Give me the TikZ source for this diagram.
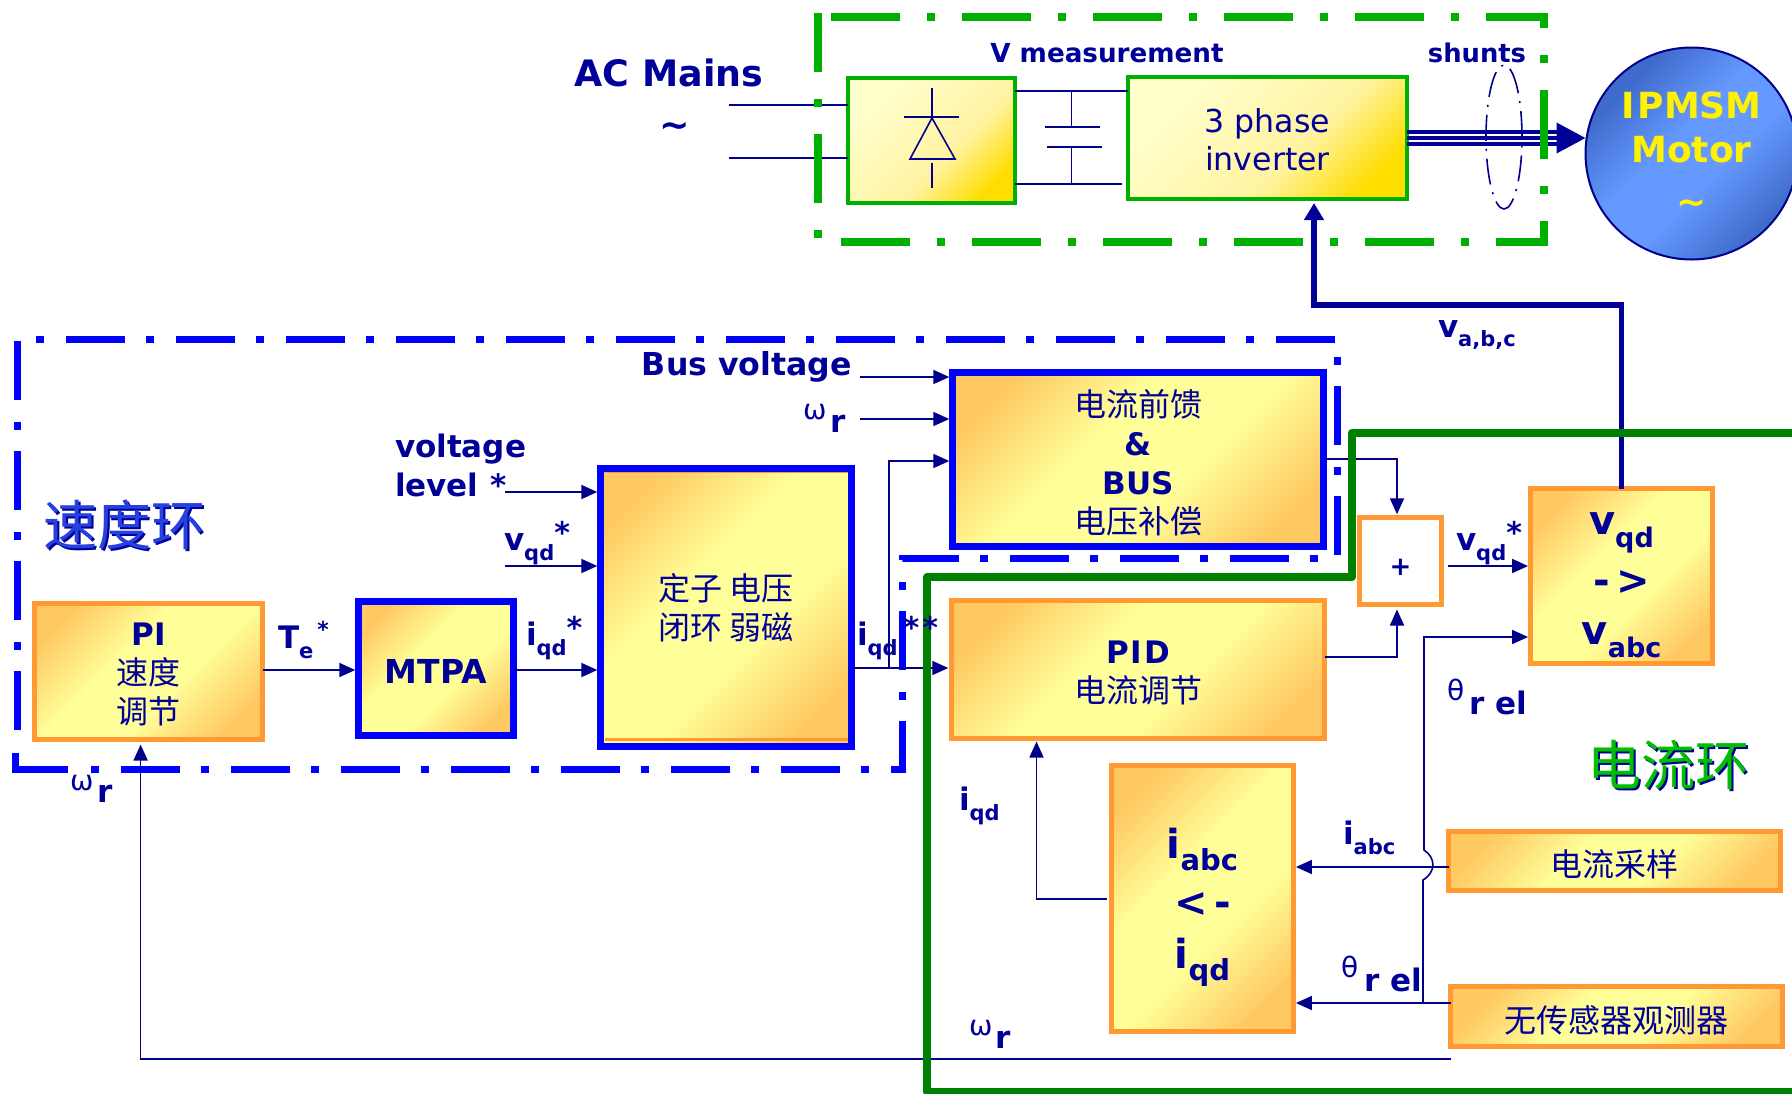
\documentclass[tikz,border=0pt]{standalone}
\usepackage{fontspec}
\setmainfont{DejaVu Sans}
\newfontfamily\cjk{Noto Sans CJK SC}
\usetikzlibrary{arrows.meta,calc,shapes.geometric}
\definecolor{navy}{HTML}{000099}
\definecolor{lineblue}{HTML}{00008B}
\definecolor{frameblue}{HTML}{0000FF}
\definecolor{framegreen}{HTML}{00B000}
\definecolor{loopgreen}{HTML}{008000}
\definecolor{boxorange}{HTML}{FF9933}
\definecolor{gradO}{HTML}{FFC861}
\definecolor{gradY}{HTML}{FFFF99}
\definecolor{goldA}{HTML}{FFFFCC}
\definecolor{goldB}{HTML}{FFF3A0}
\definecolor{goldC}{HTML}{FFDD00}
\definecolor{motA}{HTML}{3F6CCC}
\definecolor{motB}{HTML}{6699FF}
\pgfdeclarehorizontalshading{warmshade}{100bp}{color(0bp)=(gradO); color(23bp)=(gradO); color(42bp)=(gradY); color(58bp)=(gradY); color(77bp)=(gradO); color(100bp)=(gradO)}
\pgfdeclarehorizontalshading{goldshade}{100bp}{color(0bp)=(goldA); color(27bp)=(goldA); color(58bp)=(goldB); color(76bp)=(goldC); color(100bp)=(goldC)}
\pgfdeclarehorizontalshading{motorshade}{100bp}{color(0bp)=(motA); color(28bp)=(motA); color(45bp)=(motB); color(57bp)=(motB); color(74bp)=(motA); color(100bp)=(motA)}
\newcommand\sbs[2][10.5]{\raisebox{-.32em}{\fontsize{#1}{#1}\selectfont #2}}
\newcommand\str[1][15]{\raisebox{.2em}{\fontsize{#1}{#1}\selectfont *}}
\newcommand\zh[1]{{\cjk\mdseries\fontsize{16}{19}\selectfont #1}}
\newcommand\grk[1]{{\mdseries\fontsize{14}{14}\selectfont #1}}
\newcommand\dn[1]{\rule{0pt}{#1}}
\tikzset{
  fontL/.style={font=\fontsize{15.5}{19.5}\selectfont\bfseries},
  lbl/.style={text=navy,inner sep=0pt,outer sep=0pt,fontL,align=center},
  base/.style={rectangle,inner sep=0pt,outer sep=0pt,text=navy,fontL,align=center},
  warm/.style={base,shading=warmshade,shading angle=-45},
  orangebox/.style={warm,draw=boxorange,line width=2.5pt},
  bluebox/.style={warm,draw=frameblue,line width=3.5pt},
  gold/.style={base,shading=goldshade,shading angle=-45,draw=framegreen,line width=2pt},
  conn/.style={draw=lineblue,line width=.8pt},
  tip/.style={-{Triangle[length=8pt,width=7pt]}},
  bluedash/.style={draw=frameblue,line width=3.5pt,line cap=butt,miter limit=10},
  greendash/.style={draw=framegreen,line width=4pt,line cap=butt,dash pattern=on 34.5pt off 13.5pt on 4pt off 13.5pt},
}
\begin{document}
\begin{tikzpicture}[x=0.5pt,y=-0.5pt]
\clip (0,0) rectangle (1792,1093);
\fill[white] (0,0) rectangle (1792,1093);

% named levels
\coordinate (yTe) at (0,670);
\coordinate (yVL) at (0,492);
\coordinate (yVq) at (0,566);
\coordinate (yBus) at (0,377);
\coordinate (yOm) at (0,419);
\coordinate (yFi) at (0,461);
\coordinate (yIq) at (0,668);
\coordinate (yFo) at (0,459);
\coordinate (yPo) at (0,657);
\coordinate (yTh) at (0,637);
\coordinate (yIa) at (0,867);
\coordinate (yOb) at (0,1003);
\coordinate (yW) at (0,1059);
\coordinate (yQ) at (0,899);
\coordinate (yF) at (0,305);
\coordinate (xJ) at (1397,0);
\coordinate (xW) at (140.6,0);
\coordinate (xQ) at (1036.5,0);
\coordinate (xF) at (1314,0);
\coordinate (xC) at (1071.5,0);
\coordinate (acA) at (729,105);
\coordinate (acB) at (729,158);
\coordinate (vlStart) at (505,492);
\coordinate (vqStart) at (505,566);
\coordinate (busStart) at (860,377);
\coordinate (omStart) at (860,419);
\coordinate (jq) at (889,668);
\coordinate (jt) at (1423,1003);
\coordinate (bumpA) at (1423,880);
\coordinate (bumpB) at (1424,850);
\coordinate (thTop) at (1424,637);

% frames
\draw[bluedash,dash pattern=on 29.5pt off 11pt on 4pt off 10.5pt] (1335,339) -- (17,339) -- (17,730);
\draw[bluedash,dash pattern=on 4pt off 11pt on 29.5pt off 10.5pt] (91,769) -- (902,769) -- (902,558) -- (1337,558) -- (1337,340);
\draw[bluedash] (15,753) -- (15,769) -- (68,769);

% boxes
\node[orangebox,minimum width=114pt,minimum height=68pt] (pi) at (148.5,671.5) {\dn{14.7pt}PI\\\zh{速度}\\\zh{调节}};
\node[bluebox,minimum width=77.5pt,minimum height=67pt,font=\fontsize{16.5}{19}\selectfont\bfseries] (mtpa) at (436,668.5) {\dn{15.4pt}MTPA};
\node[bluebox,minimum width=125.5pt,minimum height=139pt] (dz) at (726,607.5) {\zh{定子 电压}\\\zh{闭环 弱磁}};
\draw[boxorange,line width=1.5pt] ($(dz.south west)+(4,-7)$) -- ($(dz.south east)+(-4,-7)$);
\draw[boxorange,line width=.5pt] ($(dz.north west)+(4,4)$) -- ($(dz.north east)+(-4,4)$);
\node[bluebox,minimum width=185.5pt,minimum height=87pt] (ff) at (1138,459.5) {\zh{\dn{17pt}电流前馈}\\\&\\BUS\\\zh{电压补偿}};
\node[base,fill=white,draw=boxorange,line width=2.5pt,minimum width=41pt,minimum height=43.5pt,font=\fontsize{13}{15}\selectfont\bfseries] (plus) at (1400.5,561) {\dn{14pt}+};
\node[orangebox,minimum width=186.5pt,minimum height=69pt] (pid) at (1138,669.5) {\dn{14.7pt}P\kern1pt I\kern1pt D\\\zh{电流调节}};
\node[orangebox,minimum width=91pt,minimum height=87.5pt,font=\fontsize{20}{26}\selectfont\bfseries] (vq) at (1621.5,576) {\dn{20pt}v\sbs[13.5]{qd}\\[4pt]-\,>\\[-1pt]v\sbs[13.5]{abc}};
\node[orangebox,minimum width=91pt,minimum height=133pt,font=\fontsize{20}{26}\selectfont\bfseries] (ia) at (1202.5,898.5) {\dn{24pt}i\sbs[14.5]{abc}\\[3pt]<\,-\\[0pt]i\sbs[14.5]{qd}};
\node[orangebox,minimum width=166pt,minimum height=29.5pt] (samp) at (1614.5,861) {\zh{\dn{17pt}电流采样}};
\node[orangebox,minimum width=166pt,minimum height=30pt] (obs) at (1616.5,1016.5) {\zh{\dn{17pt}无传感器观测器}};
\node[gold,minimum width=83.5pt,minimum height=62.5pt] (rect) at (931.5,140.5) {};
\node[gold,minimum width=139.5pt,minimum height=61pt,font=\fontsize{15.8}{19}\selectfont\mdseries] (inv) at (1267.5,138) {\dn{13.5pt}3 phase\\inverter};
\node[circle,inner sep=0pt,outer sep=0pt,minimum size=106pt,draw=lineblue,line width=1pt,shading=motorshade,shading angle=-45,text=yellow,align=center,font=\fontsize{18}{24}\selectfont\bfseries] (motor) at (1691.5,153.5) {I\kern1.5pt PMSM\\[-2.3pt]Motor\\[2.3pt]\textasciitilde};

% rectifier symbol
\draw[conn] (932,88) -- (932,117);
\draw[conn,line width=1pt] (904,117) -- (959,117);
\draw[conn] (932,118) -- (955,159) -- (910,159) -- cycle;
\draw[conn] (932,163) -- (932,188);

% mains and DC bus
\draw[conn,line width=1pt] (acA) -- (acA -| rect.west);
\draw[conn,line width=1pt] (acB) -- (acB -| rect.west);
\draw[conn,line width=1pt] (rect.east |- 0,91) -- (inv.west |- 0,91);
\draw[conn,line width=1pt] (rect.east |- 0,184) -- (1122,184);
\draw[conn] (xC |- 0,91) -- (xC |- 0,127);
\draw[conn,line width=1pt] (1045,127) -- (1100,127);
\draw[conn,line width=1pt] (1047,147) -- (1102,147);
\draw[conn] (xC |- 0,147) -- (xC |- 0,184);

% three phase to motor
\draw[draw=navy,line width=2pt] (inv.east |- 0,132) -- (1557,132);
\draw[draw=navy,line width=2pt,-{Triangle[length=14.5pt,width=15pt]}] (inv.east |- 0,138) -- (motor.west |- 0,138);
\draw[draw=navy,line width=2pt] (inv.east |- 0,144) -- (1557,144);
\draw[lineblue,line width=.8pt,dash pattern=on 13pt off 4pt on 1pt off 4pt] (1504,137) ellipse [x radius=9pt,y radius=36pt];
\draw[greendash] (831,17) -- (1544,17) -- (1544,242) -- (818,242) -- (818,13);

% connectors
\draw[conn,tip,shorten >=1.6pt] (pi.east |- yTe) -- (mtpa.west |- yTe);
\draw[conn,tip,shorten >=1.6pt] (mtpa.east |- yTe) -- (dz.west |- yTe);
\draw[conn,tip,shorten >=1.6pt] (vlStart) -- (dz.west |- yVL);
\draw[conn,tip,shorten >=1.6pt] (vqStart) -- (dz.west |- yVq);
\draw[conn,tip,shorten >=1.6pt] (busStart) -- (ff.west |- yBus);
\draw[conn,tip,shorten >=1.6pt] (omStart) -- (ff.west |- yOm);
\draw[conn,tip,shorten >=1.6pt] (dz.east |- yIq) -- (pid.west |- yIq);
\draw[conn,tip,shorten >=1.6pt] (jq) |- (ff.west |- yFi);
\draw[conn,tip,shorten >=1.6pt] (ff.east |- yFo) -| (xJ |- plus.north);
\draw[conn,tip,shorten >=2.5pt] (pid.east |- yPo) -| (xJ |- plus.south);
\draw[conn,tip,shorten >=1.2pt,shorten <=3pt] (plus.east |- yVq) -- (vq.west |- yVq);
\draw[conn,tip,shorten >=1.2pt] (jt) -- (bumpA) .. controls (1436,872) and (1436,858) .. (bumpB) -- (thTop) -- (vq.west |- yTh);
\draw[conn,tip,shorten >=1.2pt] (samp.west |- yIa) -- (ia.east |- yIa);
\draw[conn,tip,shorten >=1.2pt] (obs.west |- yOb) -- (ia.east |- yOb);
\draw[conn,tip,shorten >=1.5pt,shorten <=2.5pt] (ia.west |- yQ) -| (xQ |- pid.south);
\draw[conn,tip,shorten >=2.5pt] (obs.west |- yW) -| (xW |- pi.south);
\draw[draw=navy,line width=2.6pt,-{Triangle[length=8.5pt,width=9.5pt]},shorten >=2pt] (vq.north) |- (xF |- yF) -- (xF |- inv.south);

% current loop outline
\draw[loopgreen,line width=4pt,line join=round] (1800,433) -- (1352,433) -- (1352,577) -- (927,577) -- (927,1092) -- (1800,1092);

% labels
\node[lbl,font=\fontsize{18.2}{22}\selectfont\bfseries] (tAC) at (669,73) {AC Mains};
\node[lbl,font=\fontsize{18.2}{22}\selectfont\bfseries] (tTil) at (675,130) {\textasciitilde};
\node[lbl,font=\fontsize{13.1}{16}\selectfont\bfseries] (tVm) at (1107,53) {V measurement};
\node[lbl,font=\fontsize{12.9}{16}\selectfont\bfseries] (tSh) at (1477,53) {shunts};
\node[lbl,anchor=west] (tVabc) at (1438,335) {v\sbs{a,b,c}};
\node[lbl,anchor=east,font=\fontsize{15.8}{19}\selectfont\bfseries] (tBus) at (852,367) {Bus voltage};
\node[lbl,anchor=west,align=left] (tVL) at (395,465) {voltage\\level\hspace{6pt}*};
\node[lbl,anchor=west] (tVq1) at (504,543) {v\sbs{qd}\str};
\node[lbl,anchor=west] (tTe) at (278,640) {T\sbs{e}\kern2pt\raisebox{.35em}{\fontsize{11}{11}\selectfont *}};
\node[lbl,anchor=west] (tIq1) at (526,638) {i\sbs{qd}\str};
\node[lbl,anchor=west] (tIq2) at (857,638) {i\sbs{qd}\kern3pt\str\kern1.5pt\str};
\node[lbl,anchor=west] (tVq2) at (1456,543) {v\sbs{qd}\str};
\node[lbl,anchor=west] (tIq3) at (959,806) {i\sbs{qd}};
\node[lbl,anchor=west] (tIa) at (1343,838) {i\sbs{abc}};
\node[lbl,anchor=west] (tW1) at (803,412) {\grk{ω}};
\node[lbl,anchor=west] (tW1r) at (830,424) {r};
\node[lbl,anchor=west] (tW2) at (70,783) {\grk{ω}};
\node[lbl,anchor=west] (tW2r) at (97,794) {r};
\node[lbl,anchor=west] (tW3) at (969,1028) {\grk{ω}};
\node[lbl,anchor=west] (tW3r) at (995,1040) {r};
\node[lbl,anchor=west] (tT1) at (1447,690) {\grk{θ}};
\node[lbl,anchor=west] (tT1r) at (1469,703) {r el};
\node[lbl,anchor=west] (tT2) at (1341,967) {\grk{θ}};
\node[lbl,anchor=west] (tT2r) at (1364,980) {r el};

\node[lbl,text=navy,font=\cjk\fontsize{27}{30}\selectfont] (tSp0) at (126.5,527) {速度环};
\node[lbl,text=motA!60!frameblue,font=\cjk\fontsize{27}{30}\selectfont] (tSp) at (124,525) {速度环};
\node[lbl,text=navy,font=\cjk\fontsize{27}{30}\selectfont] (tCu0) at (1670.5,767) {电流环};
\node[lbl,text=green!75!black,font=\cjk\fontsize{27}{30}\selectfont] (tCu) at (1668,765) {电流环};
\end{tikzpicture}
\end{document}
